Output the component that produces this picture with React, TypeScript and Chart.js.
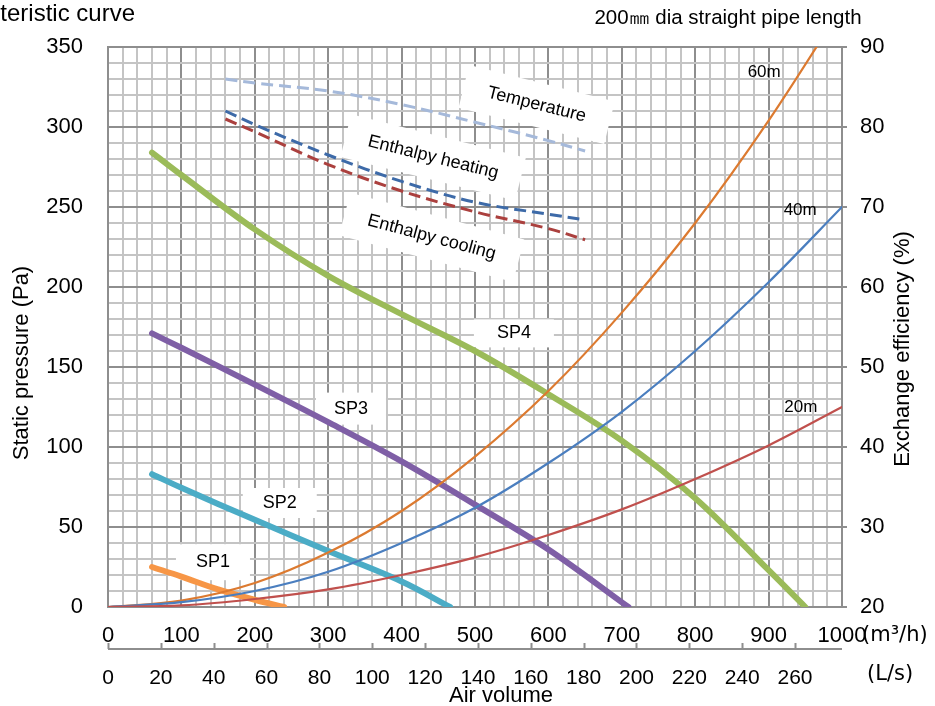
import { useEffect, useRef } from 'react';
import { Chart, registerables } from 'chart.js';

Chart.register(...registerables);

// ---- data ----
const sp1Flow = [60, 100, 150, 200, 240];
const sp1Pressure = [25, 19, 11, 4.5, 0];

const sp2Flow = [60, 100, 200, 300, 400, 466];
const sp2Pressure = [83, 74.5, 54.5, 35, 16, 0];

const sp3Flow = [60, 100, 200, 300, 400, 500, 600, 709];
const sp3Pressure = [171, 162, 139, 115.5, 91, 64, 36, 0];

const sp4Flow = [60, 100, 200, 300, 400, 500, 600, 700, 800, 900, 950];
const sp4Pressure = [284, 270, 236, 207, 183, 160, 133, 104, 68, 23, 0];

const pipeFlow = [0, 100, 200, 300, 400, 500, 600, 700, 800, 900, 1000];
const pipe20m = [0, 1, 5, 11, 20, 31, 45, 61, 80, 101, 125];
const pipe40m = [0, 3, 10, 22, 40, 62, 90, 122, 160, 203, 250];
const pipe60m = [0, 4, 15, 34, 60, 94, 135, 184, 240, 304, 375];

const effFlow = [160, 200, 300, 400, 500, 600, 650];
const effTemperature = [86, 85.5, 84.5, 82.8, 80.6, 78.3, 77];
const effHeating = [82, 80.3, 76.5, 73.2, 70.6, 69.1, 68.4];
const effCooling = [81, 79.4, 75.3, 72, 69.4, 67.3, 65.9];

const flowTickStep = 20;
const flowLabelStep = 100;
const pressureTickStep = 10;
const pressureLabelStep = 50;
const litresPerSecondTicks = [0, 20, 40, 60, 80, 100, 120, 140, 160, 180, 200, 220, 240, 260];

const titleText = 'Characteristic curve';
const subtitleText = '200㎜ dia straight pipe length';
const leftTitle = 'Static pressure (Pa)';
const rightTitle = 'Exchange efficiency (%)';
const bottomTitle = 'Air volume';

// ---- styles ----
const FONT = '"Liberation Sans", Arial, sans-serif';
const MAJOR = '#8e8e8e';
const MINOR = '#c4c4c4';

type BoxLabel = { text: string; x: number; y: number; w: number; h: number; angle: number; box: boolean };
const boxLabels: BoxLabel[] = [
  { text: 'SP1', x: 143, y: 28, w: 74, h: 36, angle: 0, box: true },
  { text: 'SP2', x: 234, y: 65, w: 74, h: 30, angle: 0, box: true },
  { text: 'SP3', x: 331, y: 124, w: 70, h: 32, angle: 0, box: true },
  { text: 'SP4', x: 553, y: 171, w: 80, h: 28, angle: 0, box: true },
  { text: 'Temperature', x: 584, y: 314, w: 150, h: 44, angle: 14, box: true },
  { text: 'Enthalpy heating', x: 443, y: 281, w: 180, h: 44, angle: 14, box: true },
  { text: 'Enthalpy cooling', x: 441, y: 231, w: 180, h: 44, angle: 15, box: true },
  { text: '60m', x: 894, y: 334, w: 0, h: 0, angle: 0, box: false },
  { text: '40m', x: 943, y: 248, w: 0, h: 0, angle: 0, box: false },
  { text: '20m', x: 944, y: 125, w: 0, h: 0, angle: 0, box: false },
];

const toPoints = (xs: number[], ys: number[]) => xs.map((x, i) => ({ x, y: ys[i] }));

const overlayPlugin = {
  id: 'overlay',
  beforeDatasetsDraw(chart: any) {
    const { ctx, scales } = chart;
    const xs = scales.x;
    const ys = scales.y;
    ctx.save();
    for (const b of boxLabels) {
      if (!b.box) continue;
      const px = xs.getPixelForValue(b.x);
      const py = ys.getPixelForValue(b.y);
      ctx.save();
      ctx.translate(px, py);
      ctx.rotate((b.angle * Math.PI) / 180);
      ctx.fillStyle = '#ffffff';
      ctx.fillRect(-b.w / 2, -b.h / 2, b.w, b.h);
      ctx.restore();
    }
    ctx.restore();
  },
  afterDatasetsDraw(chart: any) {
    const { ctx, scales } = chart;
    const xs = scales.x;
    const ys = scales.y;
    ctx.save();
    ctx.fillStyle = '#000';
    ctx.textAlign = 'center';
    ctx.textBaseline = 'middle';
    for (const b of boxLabels) {
      const px = xs.getPixelForValue(b.x);
      const py = ys.getPixelForValue(b.y);
      ctx.save();
      ctx.translate(px, py);
      ctx.rotate((b.angle * Math.PI) / 180);
      ctx.font = (b.box ? '18px ' : '17px ') + FONT;
      ctx.fillText(b.text, 0, 0);
      ctx.restore();
    }
    ctx.restore();
  },
  afterDraw(chart: any) {
    const { ctx, scales } = chart;
    const xs = scales.x;
    ctx.save();
    ctx.fillStyle = '#000';
    // titles
    ctx.textBaseline = 'middle';
    ctx.font = '24px ' + FONT;
    ctx.textAlign = 'right';
    ctx.fillText(titleText, 135, 14);
    ctx.font = '20.5px ' + FONT;
    ctx.textAlign = 'center';
    ctx.fillText(subtitleText, 728, 18);

    // axis titles
    ctx.font = '22px ' + FONT;
    ctx.save();
    ctx.translate(22, 363);
    ctx.rotate(-Math.PI / 2);
    ctx.fillText(leftTitle, 0, 0);
    ctx.restore();
    ctx.save();
    ctx.translate(903, 349);
    ctx.rotate(-Math.PI / 2);
    ctx.fillText(rightTitle, 0, 0);
    ctx.restore();
    ctx.fillText(bottomTitle, 501, 696);

    // units
    ctx.font = '21px "DejaVu Sans", sans-serif';
    ctx.textAlign = 'left';
    ctx.fillText('(m³/h)', 862, 636);
    ctx.fillText('(L/s)', 867, 675);

    // L/s axis
    const axisY = 649;
    const x0 = xs.getPixelForValue(0);
    const x1 = xs.getPixelForValue(1000);
    ctx.strokeStyle = MAJOR;
    ctx.lineWidth = 2;
    ctx.beginPath();
    ctx.moveTo(x0, axisY);
    ctx.lineTo(x1, axisY);
    for (const v of litresPerSecondTicks) {
      const px = Math.round(xs.getPixelForValue(v * 3.6)) + 0.5;
      ctx.moveTo(px, axisY);
      ctx.lineTo(px, axisY - 6);
    }
    ctx.stroke();
    ctx.font = '21px ' + FONT;
    ctx.textAlign = 'center';
    for (const v of litresPerSecondTicks) {
      ctx.fillText(String(v), xs.getPixelForValue(v * 3.6), 678);
    }
    ctx.restore();
  },
};

export default function App() {
  const canvasRef = useRef<HTMLCanvasElement | null>(null);

  useEffect(() => {
    if (!canvasRef.current) return;
    const solid = (label: string, xs: number[], ys: number[], color: string, width: number) => ({
      label,
      data: toPoints(xs, ys),
      borderColor: color,
      backgroundColor: color,
      borderWidth: width,
      pointRadius: 0,
      tension: 0.35,
      borderCapStyle: 'round' as const,
      fill: false,
      yAxisID: 'y',
    });
    const dashed = (label: string, xs: number[], ys: number[], color: string) => ({
      label,
      data: toPoints(xs, ys),
      borderColor: color,
      backgroundColor: color,
      borderWidth: 3,
      borderDash: [12, 6],
      pointRadius: 0,
      tension: 0.35,
      fill: false,
      yAxisID: 'y1',
    });

    const chart = new Chart(canvasRef.current, {
      type: 'line',
      data: {
        datasets: [
          solid('20m', pipeFlow, pipe20m, '#c0504d', 2.2),
          solid('40m', pipeFlow, pipe40m, '#4a7ebf', 2.2),
          solid('60m', pipeFlow, pipe60m, '#dc7a30', 2.2),
          dashed('Temperature', effFlow, effTemperature, '#a5b9da'),
          dashed('Enthalpy heating', effFlow, effHeating, '#3d6aa8'),
          dashed('Enthalpy cooling', effFlow, effCooling, '#ab403e'),
          solid('SP1', sp1Flow, sp1Pressure, '#f79646', 6),
          solid('SP2', sp2Flow, sp2Pressure, '#4bacc6', 6),
          solid('SP3', sp3Flow, sp3Pressure, '#7f5fa6', 6),
          solid('SP4', sp4Flow, sp4Pressure, '#9bbb59', 6),
        ] as any,
      },
      options: {
        animation: false,
        responsive: true,
        maintainAspectRatio: false,
        layout: { padding: { top: 47, left: 0, right: 0, bottom: 0 } },
        plugins: { legend: { display: false }, tooltip: { enabled: false }, title: { display: false } },
        scales: {
          x: {
            type: 'linear',
            position: 'bottom',
            min: 0,
            max: 1000,
            afterFit: (s: any) => {
              s.height = 99;
            },
            ticks: {
              stepSize: flowTickStep,
              autoSkip: false,
              maxRotation: 0,
              padding: 16,
              color: '#000',
              font: { family: FONT, size: 22 },
              callback: (v: any) => (Number(v) % flowLabelStep === 0 ? String(v) : ''),
            },
            grid: {
              drawTicks: false,
              lineWidth: 2,
              color: (c: any) => (c.tick && c.tick.value % flowLabelStep === 0 ? MAJOR : MINOR),
            },
            border: { color: MAJOR, width: 2 },
          },
          y: {
            type: 'linear',
            position: 'left',
            min: 0,
            max: 350,
            afterFit: (s: any) => {
              s.width = 108;
            },
            ticks: {
              stepSize: pressureTickStep,
              autoSkip: false,
              padding: 25,
              color: '#000',
              font: { family: FONT, size: 22 },
              callback: (v: any) => (Number(v) % pressureLabelStep === 0 ? String(v) : ''),
            },
            grid: {
              drawTicks: false,
              lineWidth: 2,
              color: (c: any) => (c.tick && c.tick.value % pressureLabelStep === 0 ? MAJOR : MINOR),
            },
            border: { color: MAJOR, width: 2 },
          },
          y1: {
            type: 'linear',
            position: 'right',
            min: 20,
            max: 90,
            afterFit: (s: any) => {
              s.width = 93;
            },
            ticks: {
              stepSize: 10,
              autoSkip: false,
              padding: 13,
              color: '#000',
              font: { family: FONT, size: 22 },
            },
            grid: { drawOnChartArea: false, drawTicks: true, tickLength: 5, lineWidth: 2, color: MAJOR },
            border: { color: MAJOR, width: 2 },
          },
        },
      } as any,
      plugins: [overlayPlugin],
    });
    return () => chart.destroy();
  }, []);

  return (
    <div style={{ position: 'fixed', left: 0, top: 0, width: 935, height: 706, background: '#fff' }}>
      <canvas ref={canvasRef} />
    </div>
  );
}
